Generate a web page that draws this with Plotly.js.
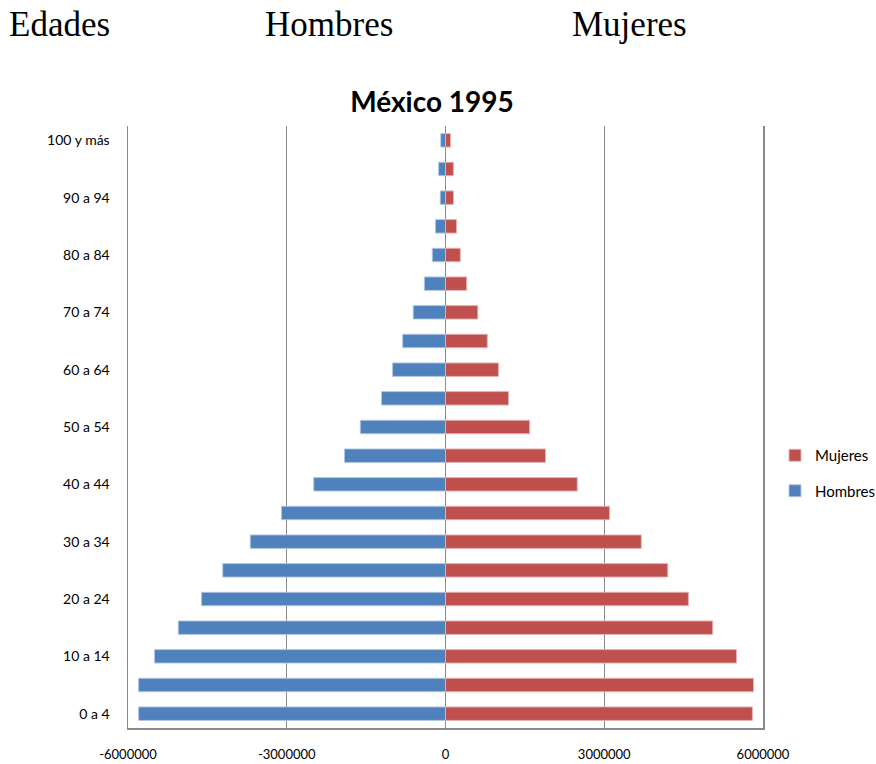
<!DOCTYPE html>
<html>
<head>
<meta charset="utf-8">
<script src="https://cdn.plot.ly/plotly-3.0.1.min.js"></script>
<style>html,body{margin:0;padding:0;background:#fff;}#chart{width:876px;height:764px;}</style>
</head>
<body>
<div id="chart"></div>
<script>
const categories = ["0 a 4","5 a 9","10 a 14","15 a 19","20 a 24","25 a 29","30 a 34","35 a 39","40 a 44","45 a 49","50 a 54","55 a 59","60 a 64","65 a 69","70 a 74","75 a 79","80 a 84","85 a 89","90 a 94","95 a 99","100 y más"];
const hombres = [-5800000,-5800000,-5500000,-5050000,-4610000,-4210000,-3690000,-3100000,-2490000,-1910000,-1610000,-1210000,-1000000,-810000,-610000,-400000,-250000,-190000,-100000,-130000,-90000];
const mujeres = [5800000,5820000,5500000,5050000,4590000,4200000,3700000,3100000,2490000,1890000,1590000,1190000,1000000,790000,610000,400000,280000,210000,150000,150000,95000];
const yTickLabels = ["0 a 4","10 a 14","20 a 24","30 a 34","40 a 44","50 a 54","60 a 64","70 a 74","80 a 84","90 a 94","100 y más"];
const xTickVals = [-6000000,-3000000,0,3000000,6000000];
const xTickText = ["-6000000","-3000000","0","3000000","6000000"];
const headerTexts = ["Edades","Hombres","Mujeres"];

const FONT = "Lato, 'Open Sans', sans-serif";
const L = 128, R = 763, T = 126, B = 728;
const W = R - L, H = B - T;
const px2x = p => (p - L) / W;
const py2y = p => (B - p) / H;

const traces = [
  {type:'bar', orientation:'h', name:'Hombres', y:categories, x:hombres, width:0.47, legendrank:2,
   marker:{color:'#4F81BD', line:{color:'rgba(180,200,230,0.9)', width:1}}, legendgroup:'h', hoverinfo:'skip'},
  {type:'bar', orientation:'h', name:'Mujeres', y:categories, x:mujeres, width:0.47, legendrank:1,
   marker:{color:'#C0504D', line:{color:'rgba(230,180,180,0.9)', width:1}}, legendgroup:'m', hoverinfo:'skip'}
];

const headerX = [7, 263, 570];
const annotations = headerTexts.map((t,i)=>({
  text:t, xref:'paper', yref:'paper', x:px2x(headerX[i]), y:py2y(25),
  xanchor:'left', yanchor:'middle', showarrow:false,
  font:{family:"'Liberation Serif', serif", size:35, color:'#000'}
}));

const layout = {
  width:876, height:764,
  margin:{l:L, r:876-R, t:T, b:764-B},
  paper_bgcolor:'#fff', plot_bgcolor:'#fff',
  barmode:'overlay',
  showlegend:true,
  title:{text:'<b>México 1995</b>', x:432/876, xanchor:'center', y:1-102/764, yanchor:'middle', yref:'container',
         font:{family:FONT, size:28, color:'#000'}},
  font:{family:FONT, size:14, color:'#000'},
  legend:{xref:'container', yref:'container', x:775/876, y:1-439/764, xanchor:'left', yanchor:'top',
          traceorder:'grouped', tracegroupgap:13,
          font:{family:FONT, size:15, color:'#000'}, bgcolor:'rgba(0,0,0,0)'},
  xaxis:{range:[-6000000,6000000], tickmode:'array', tickvals:xTickVals, ticktext:xTickText,
         showgrid:true, gridcolor:'#8a8a8a', gridwidth:1, zeroline:true, zerolinecolor:'#8a8a8a', zerolinewidth:1,
         showline:true, linecolor:'#8a8a8a', linewidth:1.5, ticks:'', ticklabelstandoff:14,
         tickfont:{family:FONT, size:13, color:'#000'}, fixedrange:true, automargin:false},
  yaxis:{type:'category', categoryorder:'array', categoryarray:categories, range:[-0.5,20.5],
         tickmode:'array', tickvals:yTickLabels, ticktext:yTickLabels,
         showgrid:false, showline:true, mirror:true, linecolor:'#8a8a8a', linewidth:1.5, ticks:'', ticklabelstandoff:14,
         tickfont:{family:FONT, size:14, color:'#000'}, fixedrange:true, automargin:false},
  annotations:annotations
};

Plotly.newPlot('chart', traces, layout, {displayModeBar:false, staticPlot:true});
</script>
</body>
</html>
